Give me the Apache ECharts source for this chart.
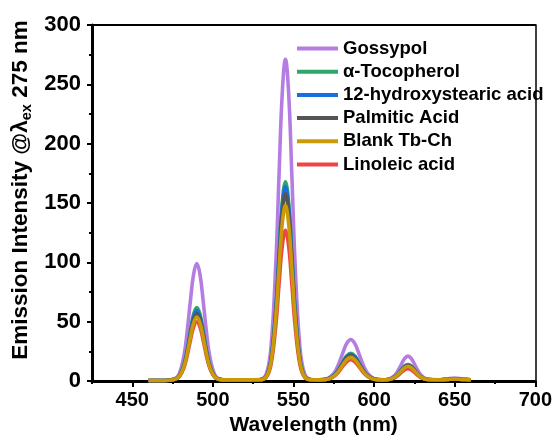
<!DOCTYPE html>
<html>
<head>
<meta charset="utf-8">
<script src="https://cdn.jsdelivr.net/npm/echarts@6/dist/echarts.min.js"></script>
<style>
  html, body { margin: 0; padding: 0; background: #fff; }
  #main { width: 555px; height: 441px; }
</style>
</head>
<body>
<div id="main"></div>
<script>
// wavelength (nm) of every sampled point
var wavelength = [460,470,476,479,482,484,486,488,490,492,494,496,498,501,504,508,515,522,529,533,536,539,541,543,545,547,549,551,554,557,561,566,571,575,578,581,583,585.5,588,590,593,596,600,605,609,613,616,619,621,623,626,629,633,640,645,650,655,660];

var gossypol = [0.5,0.5,1.8,5.9,21.2,41.3,67.1,89.8,99,89.8,67.1,41.3,21.2,5.9,1.8,1,1,1,1.3,5.6,28.3,98.2,172.5,242.1,271,242.1,172.5,98.2,28.3,5.6,1.3,1,2.1,6.5,14.4,25.3,31.7,35,31.7,25.3,14.4,6.5,2.1,1,1.6,5.1,11.8,19.1,21,19.1,11.8,5.1,1.6,1.2,1.8,2.5,1.8,1.2];
var tocopherol = [0.5,0.5,1.5,4.1,13.6,26.1,42.1,56.3,62,56.3,42.1,26.1,13.6,4.1,1.5,1,1,1,1.2,3.8,17.9,61.1,107,150.1,168,150.1,107,61.1,17.9,3.8,1.2,1,1.7,4.6,9.9,17.1,21.3,23.5,21.3,17.1,9.9,4.6,1.7,1,1.4,3.7,8,12.8,14,12.8,8,3.7,1.4,1.1,1.4,1.8,1.4,1.1];
var hydroxystearic = [0.5,0.5,1.5,3.9,13.1,25,40.4,54,59.5,54,40.4,25,13.1,3.9,1.5,1,1,1,1.2,3.8,17.5,59.7,104.5,146.6,164,146.6,104.5,59.7,17.5,3.8,1.2,1,1.7,4.5,9.5,16.4,20.4,22.5,20.4,16.4,9.5,4.5,1.7,1,1.4,3.6,7.7,12.3,13.5,12.3,7.7,3.6,1.4,1.1,1.4,1.8,1.4,1.1];
var palmitic = [0.5,0.5,1.4,3.8,12.5,24,38.7,51.7,57,51.7,38.7,24,12.5,3.8,1.4,1,1,1,1.2,3.7,16.9,57.5,100.7,141.2,158,141.2,100.7,57.5,16.9,3.7,1.2,1,1.6,4.3,9.1,15.7,19.5,21.5,19.5,15.7,9.1,4.3,1.6,1,1.3,3.5,7.5,11.9,13,11.9,7.5,3.5,1.3,1.1,1.4,1.8,1.4,1.1];
var blankTbCh = [0.5,0.5,1.4,3.7,11.9,22.8,36.7,49,54,49,36.7,22.8,11.9,3.7,1.4,1,1,1,1.1,3.5,15.8,53.9,94.3,132.3,148,132.3,94.3,53.9,15.8,3.5,1.1,1,1.6,4.1,8.5,14.6,18.1,20,18.1,14.6,8.5,4.1,1.6,1,1.3,3.4,7.2,11.4,12.5,11.4,7.2,3.4,1.3,1.1,1.4,1.8,1.4,1.1];
var linoleic = [0.5,0.5,1.4,3.5,11.1,21.1,34,45.4,50,45.4,34,21.1,11.1,3.5,1.4,1,1,1,1.1,3.1,13.7,46.4,81,113.5,127,113.5,81,46.4,13.7,3.1,1.1,1,1.5,3.8,7.7,13.2,16.3,18,16.3,13.2,7.7,3.8,1.5,1,1.3,3,6.1,9.6,10.5,9.6,6.1,3,1.3,1.1,1.4,1.8,1.4,1.1];

var legendNames = ['Gossypol', 'α-Tocopherol', '12-hydroxystearic acid', 'Palmitic Acid', 'Blank Tb-Ch', 'Linoleic acid'];
var xMajorTicks = [450, 500, 550, 600, 650, 700];

var FONT = '"Liberation Sans", Arial, sans-serif';

function pairs(ys) {
    var out = [];
    for (var i = 0; i < wavelength.length; i++) {
        out.push([wavelength[i], ys[i]]);
    }
    return out;
}

function line(name, ys, color) {
    return {
        name: name,
        type: 'line',
        data: pairs(ys),
        smooth: 0.4,
        showSymbol: false,
        color: color,
        lineStyle: { width: 3.6, color: color }
    };
}

var myChart = echarts.init(document.getElementById('main'), null, { renderer: 'canvas' });

myChart.setOption({
    animation: false,
    grid: { left: 92, right: 19, top: 25, bottom: 58 },
    legend: {
        data: legendNames,
        orient: 'vertical',
        left: 292,
        top: 34,
        icon: 'rect',
        itemWidth: 41,
        itemHeight: 4,
        itemGap: 4.2,
        textStyle: { fontFamily: FONT, fontWeight: 'bold', fontSize: 18.5, lineHeight: 18, color: '#000' }
    },
    xAxis: [
        {
            type: 'value',
            min: 425,
            max: 700,
            name: 'Wavelength (nm)',
            nameLocation: 'middle',
            nameGap: 23,
            nameTextStyle: { fontFamily: FONT, fontWeight: 'bold', fontSize: 21, color: '#000' },
            splitLine: { show: false },
            axisLine: { lineStyle: { color: '#000', width: 3 } },
            axisTick: { customValues: xMajorTicks, length: 6, lineStyle: { color: '#000', width: 2 } },
            axisLabel: { customValues: xMajorTicks, margin: 9, fontFamily: FONT, fontWeight: 'bold', fontSize: 20, color: '#000' }
        },
        {
            // minor ticks every 25 nm
            type: 'value',
            position: 'bottom',
            min: 425,
            max: 700,
            interval: 25,
            splitLine: { show: false },
            axisLine: { show: false },
            axisTick: { length: 3, lineStyle: { color: '#000', width: 2 } },
            axisLabel: { show: false }
        },
        {
            // top frame
            type: 'value',
            position: 'top',
            min: 425,
            max: 700,
            splitLine: { show: false },
            axisLine: { lineStyle: { color: '#000', width: 2 } },
            axisTick: { show: false },
            axisLabel: { show: false }
        }
    ],
    yAxis: [
        {
            type: 'value',
            min: 0,
            max: 300,
            interval: 50,
            splitLine: { show: false },
            axisLine: { lineStyle: { color: '#000', width: 3 } },
            axisTick: { length: 5, lineStyle: { color: '#000', width: 2 } },
            minorTick: { show: true, splitNumber: 2, length: 3, lineStyle: { color: '#000', width: 2 } },
            axisLabel: { margin: 11, fontFamily: FONT, fontWeight: 'bold', fontSize: 22, color: '#000' }
        },
        {
            // right frame
            type: 'value',
            position: 'right',
            min: 0,
            max: 300,
            splitLine: { show: false },
            axisLine: { lineStyle: { color: '#000', width: 1.5 } },
            axisTick: { show: false },
            axisLabel: { show: false }
        }
    ],
    graphic: [
        {
            type: 'text',
            x: 21,
            y: 190,
            rotation: Math.PI / 2,
            style: {
                text: '{a|Emission Intensity @λ}{s|ex}{a| 275 nm}',
                align: 'center',
                verticalAlign: 'middle',
                rich: {
                    a: { fontFamily: FONT, fontWeight: 'bold', fontSize: 22.5, color: '#000' },
                    s: { fontFamily: FONT, fontWeight: 'bold', fontSize: 14.5, color: '#000', verticalAlign: 'bottom', padding: [11, 0, 0, 0] }
                }
            }
        }
    ],
    series: [
        line('Gossypol', gossypol, '#b57de2'),
        line('Linoleic acid', linoleic, '#ef4545'),
        line('α-Tocopherol', tocopherol, '#2ea86a'),
        line('12-hydroxystearic acid', hydroxystearic, '#1a6fdf'),
        line('Palmitic Acid', palmitic, '#555555'),
        line('Blank Tb-Ch', blankTbCh, '#cc9a06')
    ]
});
</script>
</body>
</html>
